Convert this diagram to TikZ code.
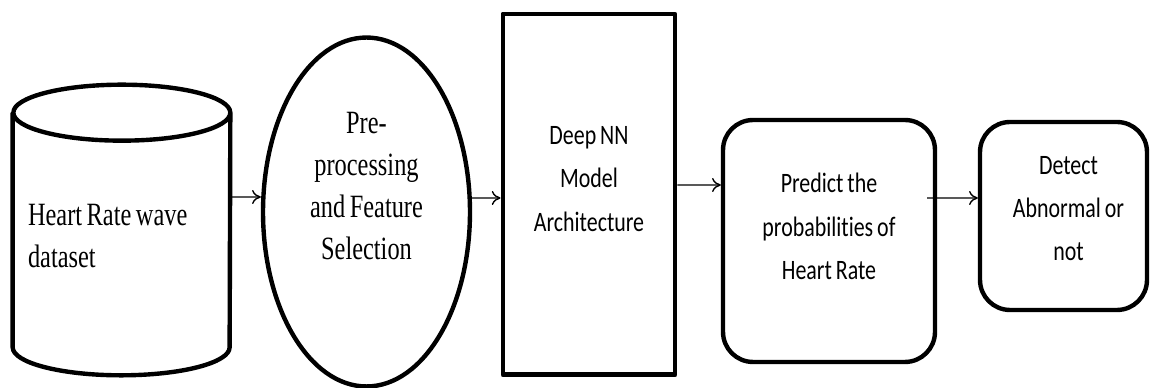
\documentclass[tikz,border=0pt]{standalone}
\usepackage{fontspec}
\usepackage{tikz}
\usetikzlibrary{positioning,arrows,arrows.meta,shapes.geometric}
\newfontfamily\serifnarrow[FakeStretch=0.75,WordSpace=0.75]{Liberation Serif}
\newfontfamily\sansnarrow[FakeStretch=0.78,WordSpace=0.8,Ligatures=NoCommon]{Carlito}

\tikzset{
  box/.style={draw, line width=2.5pt, line join=round},
  serif/.style={font=\serifnarrow\fontsize{18.5}{24}\selectfont, align=center, inner sep=0pt},
  sans/.style={font=\sansnarrow\fontsize{16}{24.7}\selectfont, align=center, inner sep=0pt},
  arr/.style={-{To[length=5pt,width=8pt]}, line width=0.8pt},
}

\begin{document}
\begin{tikzpicture}[x=0.02cm, y=0.02cm]
        \useasboundingbox (0,0) rectangle (1150,388);

        %% Dataset
        \node[minimum width=4.34cm, minimum height=5.8cm] (data) at (121.5,158) {};
        \draw[box] ([yshift=-0.56cm]data.north west) -- ([yshift=0.56cm]data.south west)
            arc[start angle=180, end angle=360, x radius=2.17cm, y radius=0.56cm]
            -- ([yshift=-0.56cm]data.north east)
            arc[start angle=0, end angle=180, x radius=2.17cm, y radius=0.56cm]
            arc[start angle=180, end angle=360, x radius=2.17cm, y radius=0.56cm];
        \node[serif, align=left, anchor=west] (datatxt) at ([xshift=0.3cm,yshift=-0.12cm]data.west) {Heart Rate wave\\dataset};

        %% Pre-processing
        \node[box, ellipse, minimum width=4.14cm, minimum height=6.98cm] (prep) at (366.5,176) {};
        \node[serif] (preptxt) at ([yshift=0.52cm]prep.center) {Pre-\\processing\\and Feature\\Selection};

        %% Model
        \node[box, line width=2.8pt, minimum width=3.44cm, minimum height=7.22cm] (model) at (589,193.5) {};
        \node[sans] (modeltxt) at ([yshift=0.31cm]model.center) {Deep NN\\Model\\Architecture};

        %% Predict
        \node[box, rounded corners=0.6cm, minimum width=4.24cm, minimum height=4.84cm] (pred) at (829,147) {};
        \node[sans] (predtxt) at ([yshift=0.29cm]pred.center) {Predict the\\probabilities of\\Heart Rate};

        %% Detect
        \node[box, rounded corners=0.6cm, minimum width=3.34cm, minimum height=3.76cm] (det) at (1063.5,172) {};
        \node[sans] (dettxt) at ([xshift=0.1cm,yshift=0.15cm]det.center) {Detect\\Abnormal or\\not};

        %% Arrows
        \draw[arr] ([yshift=0.66cm]data.east) -- ([yshift=0.3cm]prep.west);
        \draw[arr] ([yshift=0.28cm]prep.east) -- ([yshift=-0.07cm]model.west);
        \draw[arr] ([yshift=0.19cm]model.east) -- ([yshift=1.12cm]pred.west);
        \draw[arr] ([xshift=-0.2cm,yshift=0.86cm]pred.east) -- ([yshift=0.36cm]det.west);
    \end{tikzpicture}
\end{document}
